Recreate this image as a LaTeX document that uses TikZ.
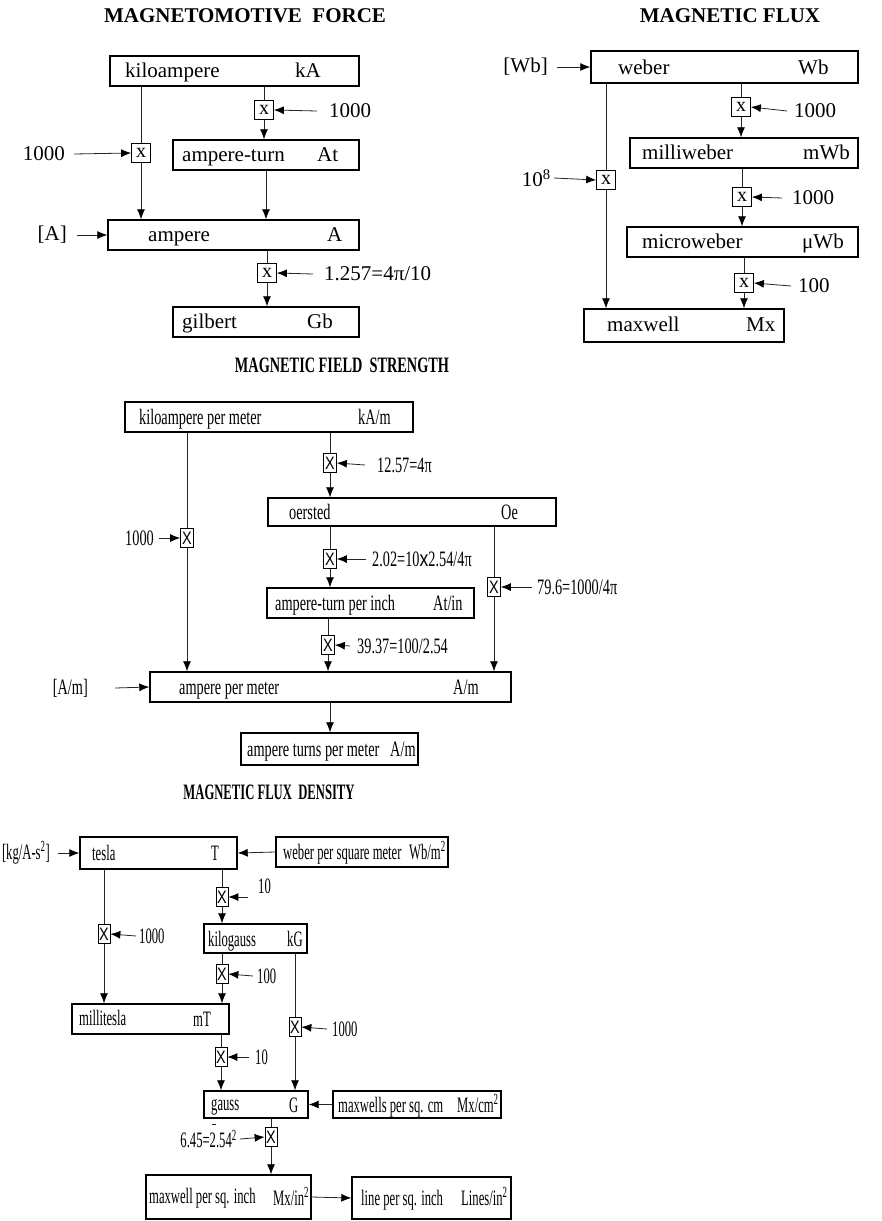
\documentclass[tikz,border=0pt]{standalone}
\usepackage{fontspec}
\setmainfont{Liberation Serif}
\newfontfamily\fA{Liberation Serif}
\newfontfamily\fB[FakeStretch=0.65]{Liberation Serif}
\newfontfamily\fC[FakeStretch=0.575]{Liberation Serif}
\newfontfamily\sB[FakeStretch=0.8]{Liberation Sans}
\usetikzlibrary{arrows.meta,fit}
\begin{document}
\begin{tikzpicture}[x=1pt,y=-1pt,
  box/.style={draw, line width=1.4pt, inner sep=0pt},
  xa/.style={draw, line width=0.7pt, inner sep=0pt, minimum width=19pt, minimum height=19pt, font=\fA\fontsize{20}{22}\selectfont},
  xc/.style={draw, line width=0.7pt, inner sep=0pt, minimum width=13pt, minimum height=19pt, font=\sB\fontsize{18}{20}\selectfont},
  xd/.style={draw, line width=0.7pt, inner sep=0pt, minimum width=12pt, minimum height=19pt, font=\sB\fontsize{18}{20}\selectfont},
  ln/.style={line width=0.8pt, black!85},
  arr/.style={line width=0.8pt, black!85, -{Latex[length=10pt,width=8pt,fill=black,color=black]}},
  fa/.style={font=\fA\fontsize{21}{24}\selectfont},
  fb/.style={font=\fB\fontsize{22}{25}\selectfont},
  fc/.style={font=\fC\fontsize{22}{25}\selectfont},
  txt/.style={anchor=base west, inner sep=0pt},
  lw/.style={anchor=west, inner sep=0pt},
  le/.style={anchor=east, inner sep=0pt},
  ttl/.style={anchor=center, inner sep=0pt}
  ]
\useasboundingbox (0,0) rectangle (881,1221);

% ================= MAGNETOMOTIVE FORCE =================
\node[ttl,fa,font=\fA\bfseries\fontsize{21}{24}\selectfont] (t1) at (245,16) {MAGNETOMOTIVE\ \ FORCE};
\node[box,fit={(110,56)(359,86)}] (kA) {};
\node[txt,fa] (kAa) at (125,77) {kiloampere};
\node[txt,fa] (kAb) at (295,77) {kA};
\node[box,fit={(173,140)(359,170)}] (At) {};
\node[txt,fa] (Ata) at (182,161) {ampere-turn};
\node[txt,fa] (Atb) at (317,161) {At};
\node[box,fit={(108,220)(359,250)}] (A) {};
\node[txt,fa] (Aa) at (148,241) {ampere};
\node[txt,fa] (Ab) at (327,241) {A};
\node[box,fit={(173,307)(359,337)}] (Gb) {};
\node[txt,fa] (Gba) at (182,328) {gilbert};
\node[txt,fa] (Gbb) at (307,328) {Gb};

\node[xa] (x11) at (141,153) {x};
\draw[ln] (x11 |- kA.south) -- (x11.north);
\draw[arr] (x11.south) -- (x11 |- A.north);
\node[le,fa] (f11) at (65,154) {1000};
\draw[arr] ([xshift=9pt]f11.east) -- (x11.west);

\node[xa] (x12) at (264,110) {x};
\draw[ln] (x12 |- kA.south) -- (x12.north);
\draw[arr] (x12.south) -- (x12 |- At.north);
\node[lw,fa] (f12) at (329,111) {1000};
\draw[arr] ([xshift=-12pt]f12.west) -- (x12.east);
\draw[arr] ([xshift=2pt]x12 |- At.south) -- ([xshift=2pt]x12 |- A.north);

\node[le,fa] (lA) at (67,235) {[A]};
\draw[arr] ([xshift=10pt]lA.east) -- (A.west);

\node[xa] (x13) at (267,273) {x};
\draw[ln] (x13 |- A.south) -- (x13.north);
\draw[arr] (x13.south) -- (x13 |- Gb.north);
\node[lw,fa] (f13) at (324,274) {1.257=4π/10};
\draw[arr] ([xshift=-11pt]f13.west) -- (x13.east);

% ================= MAGNETIC FLUX =================
\node[ttl,fa,font=\fA\bfseries\fontsize{21}{24}\selectfont] (t2) at (730,16) {MAGNETIC FLUX};
\node[box,fit={(591,51)(858,83)}] (Wb) {};
\node[txt,fa] (Wba) at (618,74) {weber};
\node[txt,fa] (Wbb) at (798,74) {Wb};
\node[box,fit={(630,138)(858,168)}] (mWb) {};
\node[txt,fa] (mWba) at (642,159) {milliweber};
\node[txt,fa] (mWbb) at (803,159) {mWb};
\node[box,fit={(627,227)(858,257)}] (uWb) {};
\node[txt,fa] (uWba) at (642,248) {microweber};
\node[txt,fa] (uWbb) at (802,248) {μWb};
\node[box,fit={(584,309)(784,342)}] (Mx) {};
\node[txt,fa] (Mxa) at (607,331) {maxwell};
\node[txt,fa] (Mxb) at (746,331) {Mx};

\node[le,fa] (lWb) at (548,67) {[Wb]};
\draw[arr] ([xshift=9pt]lWb.east) -- (Wb.west);

\node[xa] (x21) at (606,180) {x};
\draw[ln] (x21 |- Wb.south) -- (x21.north);
\draw[arr] (x21.south) -- (x21 |- Mx.north);
\node[le,fa] (f21) at (551,178) {10\textsuperscript{8}};
\draw[arr] ([xshift=3pt]f21.east) -- (x21.west);

\node[xa] (x22) at (741,107) {x};
\draw[ln] (x22 |- Wb.south) -- (x22.north);
\draw[arr] (x22.south) -- (x22 |- mWb.north);
\node[lw,fa] (f22) at (794,111) {1000};
\draw[arr] ([xshift=-7pt]f22.west) -- (x22.east);

\node[xa] (x23) at (742,197) {x};
\draw[ln] (x23 |- mWb.south) -- (x23.north);
\draw[arr] (x23.south) -- (x23 |- uWb.north);
\node[lw,fa] (f23) at (792,198) {1000};
\draw[arr] ([xshift=-10pt]f23.west) -- (x23.east);

\node[xa] (x24) at (744,283) {x};
\draw[ln] (x24 |- uWb.south) -- (x24.north);
\draw[arr] (x24.south) -- (x24 |- Mx.north);
\node[lw,fa] (f24) at (798,286) {100};
\draw[arr] ([xshift=-7pt]f24.west) -- (x24.east);

% ================= MAGNETIC FIELD STRENGTH =================
\node[ttl,fb,font=\fB\bfseries\fontsize{22}{25}\selectfont] (t3) at (342,365) {MAGNETIC FIELD\ \ STRENGTH};
\node[box,fit={(125,402)(413,432)}] (kAm) {};
\node[txt,fb] (kAma) at (139,424) {kiloampere per meter};
\node[txt,fb] (kAmb) at (358,424) {kA/m};
\node[box,fit={(268,498)(556,526)}] (Oe) {};
\node[txt,fb] (Oea) at (289,519) {oersted};
\node[txt,fb] (Oeb) at (501,519) {Oe};
\node[box,fit={(267,588)(474,618)}] (Atin) {};
\node[txt,fb] (Atina) at (275,610) {ampere-turn per inch};
\node[txt,fb] (Atinb) at (433,610) {At/in};
\node[box,fit={(150,672)(511,702)}] (Am) {};
\node[txt,fb] (Ama) at (179,694) {ampere per meter};
\node[txt,fb] (Amb) at (453,694) {A/m};
\node[box,fit={(241,733)(418,765)}] (Atm) {};
\node[txt,fb] (Atma) at (247,756) {ampere turns per meter};
\node[txt,fb] (Atmb) at (390,756) {A/m};

\node[xc] (x31) at (187,538) {X};
\draw[ln] (x31 |- kAm.south) -- (x31.north);
\draw[arr] (x31.south) -- (x31 |- Am.north);
\node[le,fb] (f31) at (154,538) {1000};
\draw[arr] ([xshift=5pt]f31.east) -- (x31.west);

\node[xc] (x32) at (330,463) {X};
\draw[ln] (x32 |- kAm.south) -- (x32.north);
\draw[arr] (x32.south) -- (x32 |- Oe.north);
\node[lw,fb] (f32) at (377,465) {12.57=4π};
\draw[arr] ([xshift=-12pt]f32.west) -- (x32.east);

\node[xc] (x33) at (330,559) {X};
\draw[ln] (x33 |- Oe.south) -- (x33.north);
\draw[arr] (x33.south) -- (x33 |- Atin.north);
\node[lw,fb] (f33) at (372,559) {2.02=10{\sB x}2.54/4π};
\draw[arr] ([xshift=-6pt]f33.west) -- (x33.east);

\node[xc] (x34) at (494,587) {X};
\draw[ln] (x34 |- Oe.south) -- (x34.north);
\draw[arr] (x34.south) -- (x34 |- Am.north);
\node[lw,fb] (f34) at (537,587) {79.6=1000/4π};
\draw[arr] ([xshift=-5pt]f34.west) -- (x34.east);

\node[xc] (x35) at (328,645) {X};
\draw[ln] (x35 |- Atin.south) -- (x35.north);
\draw[arr] (x35.south) -- (x35 |- Am.north);
\node[lw,fb] (f35) at (357,646) {39.37=100/2.54};
\draw[arr] ([xshift=-7pt]f35.west) -- (x35.east);

\node[le,fb] (lAm) at (88,688) {[A/m]};
\draw[arr] ([xshift=27pt]lAm.east) -- (Am.west);
\draw[arr] (x32 |- Am.south) -- (x32 |- Atm.north);

% ================= MAGNETIC FLUX DENSITY =================
\node[ttl,fc,font=\fC\bfseries\fontsize{22}{25}\selectfont] (t4) at (269,792) {MAGNETIC FLUX\ \ DENSITY};
\node[box,fit={(80,837)(237,869)}] (T) {};
\node[txt,fc] (Ta) at (92,860) {tesla};
\node[txt,fc] (Tb) at (211,860) {T};
\node[box,fit={(276,837)(448,867)}] (Wbm) {};
\node[txt,fc] (Wbma) at (283,859) {weber per square meter};
\node[txt,fc] (Wbmb) at (409,859) {Wb/m\textsuperscript{2}};
\node[box,fit={(204,924)(307,953)}] (kG) {};
\node[txt,fc] (kGa) at (208,946) {kilogauss};
\node[txt,fc] (kGb) at (287,946) {kG};
\node[box,fit={(72,1004)(229,1034)}] (mT) {};
\node[txt,fc] (mTa) at (79,1025) {millitesla};
\node[txt,fc] (mTb) at (193,1026) {mT};
\node[box,fit={(204,1091)(308,1118)}] (G) {};
\node[txt,fc] (Ga) at (211,1110) {gauss};
\node[txt,fc] (Gb2) at (289,1112) {G};
\node[box,fit={(333,1091)(501,1118)}] (Mxcm) {};
\node[txt,fc] (Mxcma) at (338,1112) {maxwells per sq. cm};
\node[txt,fc] (Mxcmb) at (457,1112) {Mx/cm\textsuperscript{2}};
\node[box,fit={(146,1175)(311,1219)}] (Mxin) {};
\node[txt,fc] (Mxina) at (149,1203) {maxwell per sq. inch};
\node[txt,fc] (Mxinb) at (273,1205) {Mx/in\textsuperscript{2}};
\node[box,fit={(352,1177)(511,1219)}] (Lin) {};
\node[txt,fc] (Lina) at (361,1205) {line per sq. inch};
\node[txt,fc] (Linb) at (461,1205) {Lines/in\textsuperscript{2}};

\node[le,fc] (lT) at (50,853) {[kg/A-s\textsuperscript{2}]};
\draw[arr] ([xshift=8pt]lT.east) -- (T.west);
\draw[arr] (Wbm.west) -- (T.east);

\node[xd] (x41) at (104,934) {X};
\draw[ln] (x41 |- T.south) -- (x41.north);
\draw[arr] (x41.south) -- (x41 |- mT.north);
\node[lw,fc] (f41) at (139,936) {1000};
\draw[arr] ([xshift=-3pt]f41.west) -- (x41.east);

\node[xd] (x42) at (222,897) {X};
\draw[ln] (x42 |- T.south) -- (x42.north);
\draw[arr] (x42.south) -- (x42 |- kG.north);
\node[lw,fc] (f42) at (258,886) {10};
\coordinate (c42) at (248,897);
\draw[arr] (c42) -- (x42.east);

\node[xd] (x43) at (222,974) {X};
\draw[ln] (x43 |- kG.south) -- (x43.north);
\draw[arr] (x43.south) -- (x43 |- mT.north);
\node[lw,fc] (f43) at (257,976) {100};
\draw[arr] ([xshift=-4pt]f43.west) -- (x43.east);

\node[xd] (x44) at (295,1027) {X};
\draw[ln] (x44 |- kG.south) -- (x44.north);
\draw[arr] (x44.south) -- (x44 |- G.north);
\node[lw,fc] (f44) at (332,1029) {1000};
\draw[arr] ([xshift=-5pt]f44.west) -- (x44.east);

\node[xd] (x45) at (221,1057) {X};
\draw[ln] (x45 |- mT.south) -- (x45.north);
\draw[arr] (x45.south) -- (x45 |- G.north);
\node[lw,fc] (f45) at (255,1057) {10};
\draw[arr] ([xshift=-6pt]f45.west) -- (x45.east);

\draw[arr] (Mxcm.west) -- (G.east);

\node[xd] (x46) at (271,1137) {X};
\draw[ln] (x46 |- G.south) -- (x46.north);
\draw[arr] (x46.south) -- (x46 |- Mxin.north);
\node[le,fc] (f46) at (237,1139) {6.45=2.54\textsuperscript{2}};
\draw[arr] ([xshift=3pt]f46.east) -- (x46.west);
\coordinate (d1) at (212,1124);
\coordinate (d2) at (216,1124);
\draw[ln] (d1) -- (d2);

\draw[arr] (Mxin.east) -- (Lin.west);
\end{tikzpicture}
\end{document}
